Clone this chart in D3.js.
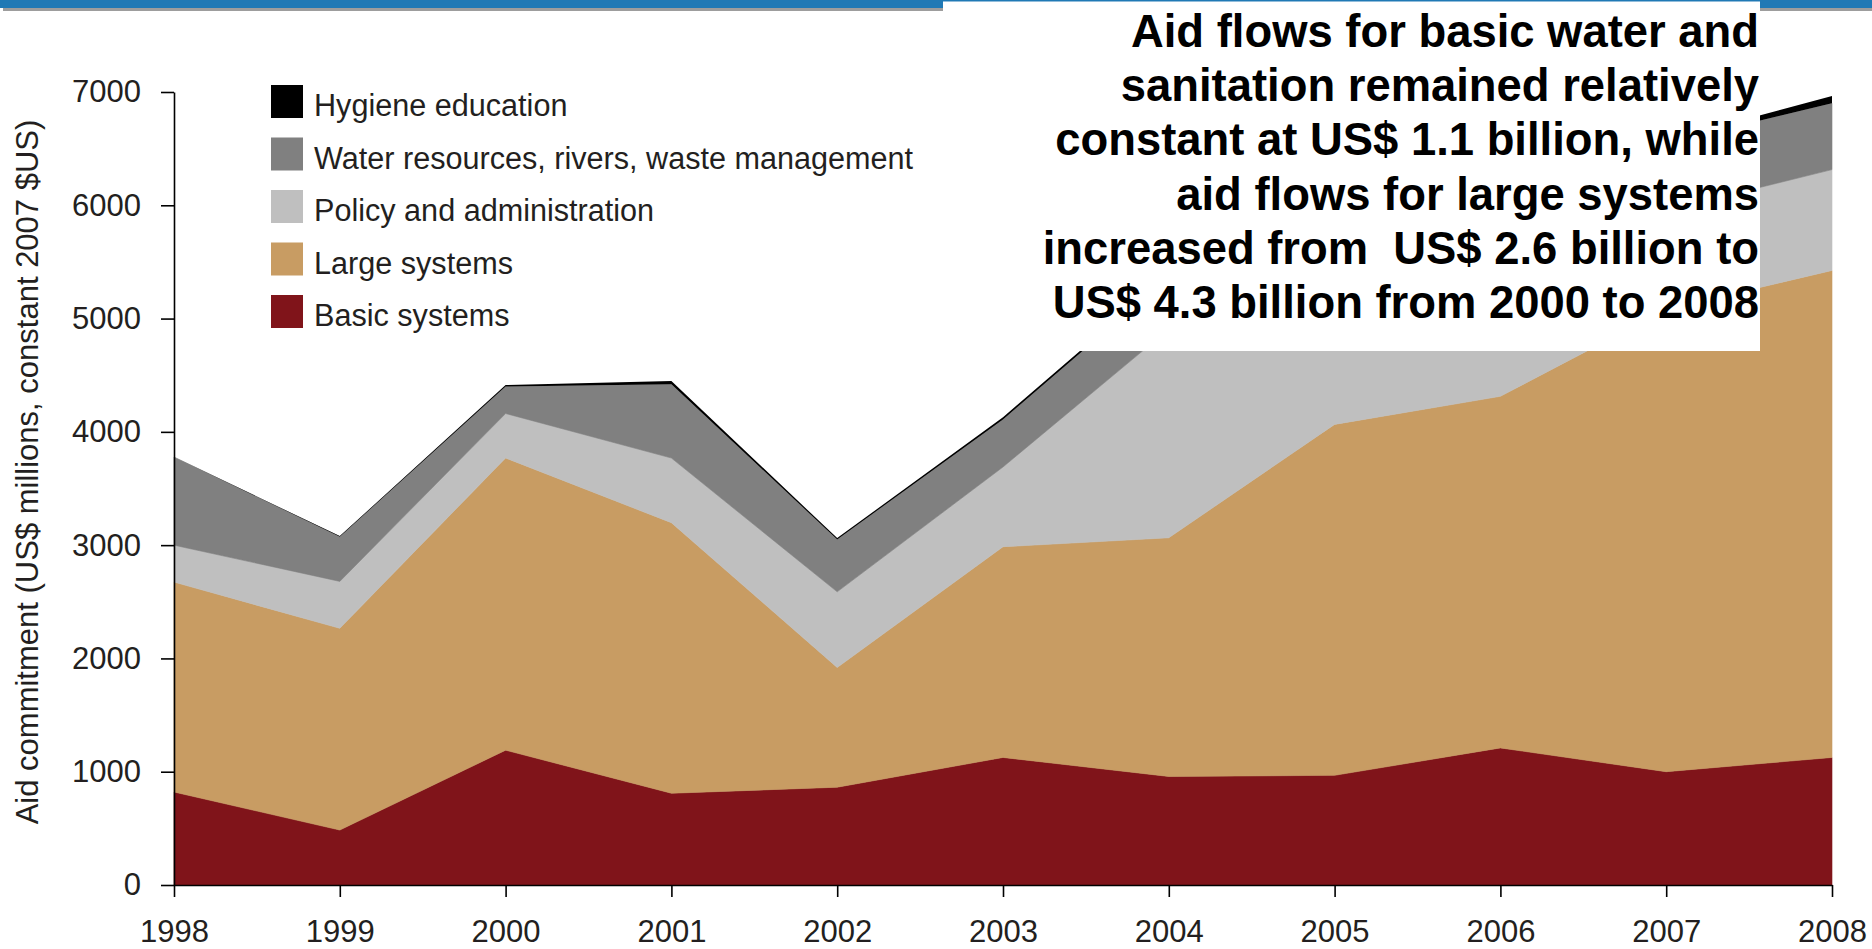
<!DOCTYPE html>
<html>
<head>
<meta charset="utf-8">
<script src="https://cdn.jsdelivr.net/npm/d3@7"></script>
<style>
  html, body { margin: 0; padding: 0; background: #ffffff; }
  svg { display: block; }
  text { font-family: "Liberation Sans", Arial, Helvetica, sans-serif; }
</style>
</head>
<body>
<svg id="chart" width="1872" height="949"></svg>
<script>
// Aid commitments for water and sanitation, US$ millions (constant 2007 $US)
const years = [1998, 1999, 2000, 2001, 2002, 2003, 2004, 2005, 2006, 2007, 2008];
const basicSystems     = [821, 485, 1190, 810, 863, 1126, 958, 968, 1210, 1000, 1126];
const largeSystems     = [1853, 1781, 2579, 2388, 1057, 1860, 2107, 3098, 3104, 4080, 4299];
const policyAdmin      = [326, 414, 393, 571, 668, 704, 1842, 1184, 1236, 873, 890];
const waterResources   = [778, 394, 238, 651, 462, 420, 460, 450, 450, 594, 585];
const hygieneEducation = [0, 6, 13, 30, 12, 20, 23, 25, 25, 25, 65];

const seriesKeys   = ["basic", "large", "policy", "water", "hygiene"];
const seriesLabels = ["Basic systems", "Large systems", "Policy and administration",
                      "Water resources, rivers, waste management", "Hygiene education"];
const yTicks = [0, 1000, 2000, 3000, 4000, 5000, 6000, 7000];
const yAxisTitle = "Aid commitment (US$ millions, constant 2007 $US)";
const calloutLines = [
  "Aid flows for basic water and",
  "sanitation remained relatively",
  "constant at US$ 1.1 billion, while",
  "aid flows for large systems",
  "increased from  US$ 2.6 billion to",
  "US$ 4.3 billion from 2000 to 2008"
];

// Fill colours per layer
const palette = {
  basic: "#80141a",
  large: "#c89c63",
  policy: "#bfbfbf",
  water: "#808080",
  hygiene: "#000000"
};
const inkColor = "#231f20";

const rows = years.map((yr, i) => ({
  year: yr,
  basic: basicSystems[i],
  large: largeSystems[i],
  policy: policyAdmin[i],
  water: waterResources[i],
  hygiene: hygieneEducation[i]
}));

const svg = d3.select("#chart");

const plot = { left: 174, right: 1832, top: 92, bottom: 885 };

const x = d3.scaleLinear().domain([1998, 2008]).range([plot.left, plot.right]);
const y = d3.scaleLinear().domain([0, 7000]).range([plot.bottom, plot.top]);

const stacked = d3.stack().keys(seriesKeys)(rows);

const area = d3.area()
  .x(d => x(d.data.year))
  .y0(d => y(d[0]))
  .y1(d => y(d[1]));

svg.append("g")
  .selectAll("path")
  .data(stacked)
  .join("path")
  .attr("d", area)
  .attr("fill", d => palette[d.key])
  .attr("stroke", d => d.key === "hygiene" ? "none" : palette[d.key])
  .attr("stroke-width", 0.6)
  .attr("stroke-linejoin", "round");

// Axes
const yAxis = d3.axisLeft(y)
  .tickValues(yTicks)
  .tickFormat(d3.format("d"))
  .tickSize(13)
  .tickSizeOuter(0)
  .tickPadding(20);

const xAxis = d3.axisBottom(x)
  .tickValues(years)
  .tickFormat(d3.format("d"))
  .tickSize(12)
  .tickSizeOuter(0)
  .tickPadding(23);

function styleAxis(g) {
  g.selectAll("path.domain").attr("stroke", "#000").attr("stroke-width", 1.6);
  g.selectAll(".tick line").attr("stroke", "#000").attr("stroke-width", 1.6);
  g.selectAll(".tick text")
    .attr("fill", inkColor)
    .style("font-size", "31px")
    .style("font-family", "'Liberation Sans', Arial, Helvetica, sans-serif");
}

svg.append("g")
  .attr("transform", `translate(${plot.left},0)`)
  .call(yAxis)
  .call(styleAxis);

svg.append("g")
  .attr("transform", `translate(0,${plot.bottom})`)
  .call(xAxis)
  .call(styleAxis);

// Y axis title
svg.append("text")
  .attr("transform", "translate(38, 472) rotate(-90)")
  .attr("text-anchor", "middle")
  .attr("fill", inkColor)
  .style("font-size", "31px")
  .text(yAxisTitle);

// Legend (top entry is the top layer)
const legendOrder = seriesKeys.slice().reverse();
const legend = svg.append("g").attr("transform", "translate(271,85)");
const legendRow = legend.selectAll("g")
  .data(legendOrder)
  .join("g")
  .attr("transform", (d, i) => `translate(0, ${i * 52.5})`);

legendRow.append("rect")
  .attr("width", 32)
  .attr("height", 33)
  .attr("fill", d => palette[d]);

legendRow.append("text")
  .attr("x", 43)
  .attr("y", 31)
  .attr("fill", inkColor)
  .style("font-size", "30.6px")
  .text(d => seriesLabels[seriesKeys.indexOf(d)]);

// Banner rule across the top with its drop shadow
svg.append("rect")
  .attr("x", 3).attr("y", 8).attr("width", 1869).attr("height", 3)
  .attr("fill", "#9d9d9d");
svg.append("rect")
  .attr("x", 0).attr("y", 0).attr("width", 1872).attr("height", 8)
  .attr("fill", "#2079b5");

// Callout panel
svg.append("rect")
  .attr("x", 943).attr("y", 1.5).attr("width", 817).attr("height", 349.5)
  .attr("fill", "#ffffff");

svg.append("g")
  .selectAll("text")
  .data(calloutLines)
  .join("text")
  .attr("x", 1759)
  .attr("y", (d, i) => 47 + i * 54.2)
  .attr("text-anchor", "end")
  .attr("fill", "#000")
  .style("font-size", "45.4px")
  .style("font-weight", "bold")
  .style("white-space", "pre")
  .text(d => d);
</script>
</body>
</html>
